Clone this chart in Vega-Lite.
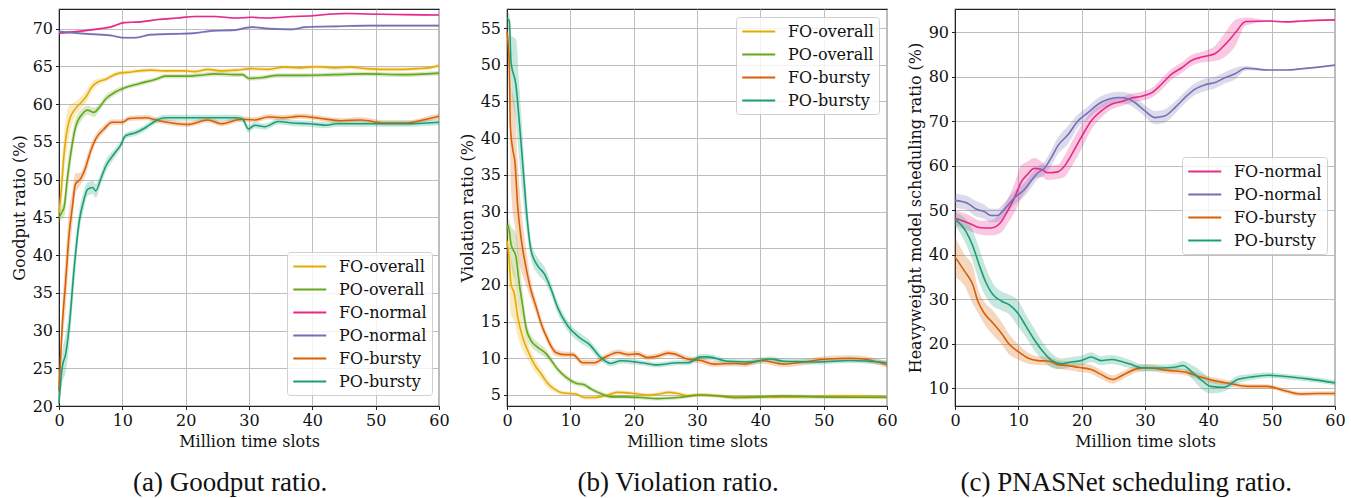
{
"$schema":"https://vega.github.io/schema/vega-lite/v6.json",
"padding":{"left":10,"top":8,"right":0,"bottom":0},
"spacing":8,
"config":{
 "font":"DejaVu Serif",
 "view":{"stroke":"#222","strokeWidth":1.2},
 "axis":{"labelFont":"DejaVu Serif","labelFontSize":16,"labelColor":"#111","titleFont":"DejaVu Serif","titleFontSize":16,"titleFontWeight":"normal","titleColor":"#111","tickColor":"#222","tickSize":3.5,"domainColor":"#222","gridColor":"#bdbdbd","gridWidth":1,"labelPadding":3,"titlePadding":5,"labelFlush":false,"labelOverlap":false},
 "legend":{"labelFont":"DejaVu Serif","labelFontSize":16,"labelColor":"#111","symbolType":"M-1,0H3","symbolStrokeWidth":2,"symbolSize":272,"symbolOpacity":1,"symbolFillColor":"transparent","fillColor":"rgba(255,255,255,0.8)","strokeColor":"#d0d0d0","cornerRadius":3,"padding":5,"rowPadding":5,"labelOffset":28},
 "title":{"font":"Liberation Serif","fontSize":27,"fontWeight":"normal","color":"#111","orient":"bottom","anchor":"middle","frame":"bounds","offset":20}
},
"datasets":{
"a":[
{"s":"FO-overall","x":0,"y":45.5,"lo":44,"hi":47},{"s":"FO-overall","x":0.3,"y":48,"lo":45.5,"hi":50.5},{"s":"FO-overall","x":0.8,"y":53.4,"lo":50.8,"hi":56},{"s":"FO-overall","x":1.6,"y":57.8,"lo":55.8,"hi":59.8},{"s":"FO-overall","x":2.6,"y":59.4,"lo":58.5,"hi":60.3},{"s":"FO-overall","x":3.5,"y":60.2,"lo":59.4,"hi":61},{"s":"FO-overall","x":4.2,"y":60.9,"lo":60.1,"hi":61.7},{"s":"FO-overall","x":5.3,"y":62.4,"lo":61.8,"hi":63},{"s":"FO-overall","x":6.3,"y":63,"lo":62.6,"hi":63.4},{"s":"FO-overall","x":7.4,"y":63.3,"lo":63,"hi":63.6},{"s":"FO-overall","x":8.5,"y":63.8,"lo":63.5,"hi":64.1},{"s":"FO-overall","x":9.5,"y":64.1,"lo":63.8,"hi":64.4},{"s":"FO-overall","x":10.8,"y":64.2,"lo":63.95,"hi":64.45},{"s":"FO-overall","x":12.6,"y":64.4,"lo":64.15,"hi":64.65},{"s":"FO-overall","x":14.5,"y":64.5,"lo":64.25,"hi":64.75},{"s":"FO-overall","x":16.5,"y":64.4,"lo":64.15,"hi":64.65},{"s":"FO-overall","x":19.7,"y":64.4,"lo":64.15,"hi":64.65},{"s":"FO-overall","x":21.5,"y":64.3,"lo":64.05,"hi":64.55},{"s":"FO-overall","x":23.5,"y":64.6,"lo":64.35,"hi":64.85},{"s":"FO-overall","x":25.5,"y":64.4,"lo":64.15,"hi":64.65},{"s":"FO-overall","x":28,"y":64.5,"lo":64.25,"hi":64.75},{"s":"FO-overall","x":30.4,"y":64.7,"lo":64.45,"hi":64.95},{"s":"FO-overall","x":33,"y":64.6,"lo":64.35,"hi":64.85},{"s":"FO-overall","x":35.5,"y":64.9,"lo":64.65,"hi":65.15},{"s":"FO-overall","x":38,"y":64.8,"lo":64.55,"hi":65.05},{"s":"FO-overall","x":40.7,"y":64.95,"lo":64.7,"hi":65.2},{"s":"FO-overall","x":43.5,"y":64.8,"lo":64.55,"hi":65.05},{"s":"FO-overall","x":46,"y":64.9,"lo":64.65,"hi":65.15},{"s":"FO-overall","x":48.5,"y":64.7,"lo":64.45,"hi":64.95},{"s":"FO-overall","x":51.3,"y":64.6,"lo":64.35,"hi":64.85},{"s":"FO-overall","x":54,"y":64.6,"lo":64.35,"hi":64.85},{"s":"FO-overall","x":56.5,"y":64.7,"lo":64.45,"hi":64.95},{"s":"FO-overall","x":58.5,"y":64.8,"lo":64.55,"hi":65.05},{"s":"FO-overall","x":60,"y":65.1,"lo":64.85,"hi":65.35},
{"s":"PO-overall","x":0,"y":45,"lo":44.3,"hi":45.7},{"s":"PO-overall","x":0.4,"y":45.6,"lo":44.7,"hi":46.5},{"s":"PO-overall","x":0.8,"y":46.3,"lo":45,"hi":47.6},{"s":"PO-overall","x":1.3,"y":50,"lo":48,"hi":52},{"s":"PO-overall","x":1.85,"y":53.4,"lo":51.8,"hi":55},{"s":"PO-overall","x":2.6,"y":56.9,"lo":55.8,"hi":58},{"s":"PO-overall","x":3.7,"y":58.7,"lo":58,"hi":59.4},{"s":"PO-overall","x":4.5,"y":59.2,"lo":58.6,"hi":59.8},{"s":"PO-overall","x":5.5,"y":58.9,"lo":58.3,"hi":59.5},{"s":"PO-overall","x":6.3,"y":59.5,"lo":59,"hi":60},{"s":"PO-overall","x":7.4,"y":60.7,"lo":60.2,"hi":61.2},{"s":"PO-overall","x":8.9,"y":61.6,"lo":61.2,"hi":62},{"s":"PO-overall","x":10.5,"y":62.2,"lo":61.9,"hi":62.5},{"s":"PO-overall","x":12.6,"y":62.7,"lo":62.4,"hi":63},{"s":"PO-overall","x":15.3,"y":63.3,"lo":63,"hi":63.6},{"s":"PO-overall","x":16.8,"y":63.7,"lo":63.4,"hi":64},{"s":"PO-overall","x":20,"y":63.7,"lo":63.4,"hi":64},{"s":"PO-overall","x":22,"y":63.8,"lo":63.5,"hi":64.1},{"s":"PO-overall","x":24.6,"y":64,"lo":63.7,"hi":64.3},{"s":"PO-overall","x":27.7,"y":63.9,"lo":63.6,"hi":64.2},{"s":"PO-overall","x":29,"y":63.9,"lo":63.6,"hi":64.2},{"s":"PO-overall","x":30,"y":63.4,"lo":63.1,"hi":63.7},{"s":"PO-overall","x":31.9,"y":63.5,"lo":63.2,"hi":63.8},{"s":"PO-overall","x":34.5,"y":63.8,"lo":63.5,"hi":64.1},{"s":"PO-overall","x":38,"y":63.8,"lo":63.5,"hi":64.1},{"s":"PO-overall","x":43.4,"y":63.9,"lo":63.6,"hi":64.2},{"s":"PO-overall","x":48.6,"y":64,"lo":63.7,"hi":64.3},{"s":"PO-overall","x":54,"y":63.9,"lo":63.6,"hi":64.2},{"s":"PO-overall","x":60,"y":64.1,"lo":63.8,"hi":64.4},
{"s":"FO-normal","x":0,"y":69.4,"lo":69.3,"hi":69.5},{"s":"FO-normal","x":3.8,"y":69.7,"lo":69.6,"hi":69.8},{"s":"FO-normal","x":6.5,"y":70,"lo":69.9,"hi":70.1},{"s":"FO-normal","x":8.1,"y":70.2,"lo":70.1,"hi":70.3},{"s":"FO-normal","x":10.3,"y":70.8,"lo":70.7,"hi":70.9},{"s":"FO-normal","x":12.9,"y":70.9,"lo":70.8,"hi":71},{"s":"FO-normal","x":15.6,"y":71.2,"lo":71.1,"hi":71.3},{"s":"FO-normal","x":18.7,"y":71.4,"lo":71.3,"hi":71.5},{"s":"FO-normal","x":21.4,"y":71.6,"lo":71.5,"hi":71.7},{"s":"FO-normal","x":24.6,"y":71.6,"lo":71.5,"hi":71.7},{"s":"FO-normal","x":27.7,"y":71.4,"lo":71.3,"hi":71.5},{"s":"FO-normal","x":30.4,"y":71.5,"lo":71.4,"hi":71.6},{"s":"FO-normal","x":33,"y":71.4,"lo":71.3,"hi":71.5},{"s":"FO-normal","x":36.8,"y":71.6,"lo":71.5,"hi":71.7},{"s":"FO-normal","x":40,"y":71.7,"lo":71.6,"hi":71.8},{"s":"FO-normal","x":42.6,"y":71.9,"lo":71.8,"hi":72},{"s":"FO-normal","x":45.3,"y":72,"lo":71.9,"hi":72.1},{"s":"FO-normal","x":50.6,"y":71.9,"lo":71.8,"hi":72},{"s":"FO-normal","x":55,"y":71.85,"lo":71.75,"hi":71.95},{"s":"FO-normal","x":60,"y":71.8,"lo":71.7,"hi":71.9},
{"s":"PO-normal","x":0,"y":69.6,"lo":69.45,"hi":69.75},{"s":"PO-normal","x":4.4,"y":69.3,"lo":69.15,"hi":69.45},{"s":"PO-normal","x":8.1,"y":69.1,"lo":68.95,"hi":69.25},{"s":"PO-normal","x":10.3,"y":68.8,"lo":68.65,"hi":68.95},{"s":"PO-normal","x":11.9,"y":68.8,"lo":68.65,"hi":68.95},{"s":"PO-normal","x":14.5,"y":69.2,"lo":69.05,"hi":69.35},{"s":"PO-normal","x":18.2,"y":69.3,"lo":69.15,"hi":69.45},{"s":"PO-normal","x":21.4,"y":69.4,"lo":69.25,"hi":69.55},{"s":"PO-normal","x":24.1,"y":69.7,"lo":69.55,"hi":69.85},{"s":"PO-normal","x":27.7,"y":69.8,"lo":69.65,"hi":69.95},{"s":"PO-normal","x":30.4,"y":70.2,"lo":70.05,"hi":70.35},{"s":"PO-normal","x":33,"y":70,"lo":69.85,"hi":70.15},{"s":"PO-normal","x":36.8,"y":69.9,"lo":69.75,"hi":70.05},{"s":"PO-normal","x":38.9,"y":70.2,"lo":70.05,"hi":70.35},{"s":"PO-normal","x":43.8,"y":70.3,"lo":70.15,"hi":70.45},{"s":"PO-normal","x":49.1,"y":70.4,"lo":70.25,"hi":70.55},{"s":"PO-normal","x":60,"y":70.4,"lo":70.25,"hi":70.55},
{"s":"FO-bursty","x":0,"y":22,"lo":20.5,"hi":23.5},{"s":"FO-bursty","x":0.5,"y":30.5,"lo":28,"hi":33},{"s":"FO-bursty","x":1.06,"y":36.6,"lo":33,"hi":40},{"s":"FO-bursty","x":1.6,"y":42.8,"lo":39.5,"hi":46},{"s":"FO-bursty","x":2.1,"y":46.3,"lo":44,"hi":48.5},{"s":"FO-bursty","x":2.6,"y":49.4,"lo":48,"hi":50.8},{"s":"FO-bursty","x":3.4,"y":50.1,"lo":49.3,"hi":50.9},{"s":"FO-bursty","x":4.2,"y":51.6,"lo":50.6,"hi":52.6},{"s":"FO-bursty","x":5,"y":53.8,"lo":53,"hi":54.6},{"s":"FO-bursty","x":5.8,"y":55.4,"lo":54.8,"hi":56},{"s":"FO-bursty","x":7.1,"y":56.7,"lo":56.2,"hi":57.2},{"s":"FO-bursty","x":8.4,"y":57.6,"lo":57.2,"hi":58},{"s":"FO-bursty","x":10,"y":57.6,"lo":57.25,"hi":57.95},{"s":"FO-bursty","x":11.1,"y":58.1,"lo":57.75,"hi":58.45},{"s":"FO-bursty","x":13.7,"y":58.2,"lo":57.85,"hi":58.55},{"s":"FO-bursty","x":15.3,"y":57.9,"lo":57.55,"hi":58.25},{"s":"FO-bursty","x":17.1,"y":57.6,"lo":57.25,"hi":57.95},{"s":"FO-bursty","x":20.3,"y":57.3,"lo":56.95,"hi":57.65},{"s":"FO-bursty","x":23.5,"y":57.9,"lo":57.55,"hi":58.25},{"s":"FO-bursty","x":25.6,"y":57.4,"lo":57.05,"hi":57.75},{"s":"FO-bursty","x":28.8,"y":58,"lo":57.65,"hi":58.35},{"s":"FO-bursty","x":30.9,"y":57.9,"lo":57.55,"hi":58.25},{"s":"FO-bursty","x":33,"y":58.3,"lo":57.95,"hi":58.65},{"s":"FO-bursty","x":35.2,"y":58.2,"lo":57.85,"hi":58.55},{"s":"FO-bursty","x":36.8,"y":58.3,"lo":57.95,"hi":58.65},{"s":"FO-bursty","x":38,"y":58.4,"lo":58.05,"hi":58.75},{"s":"FO-bursty","x":41.3,"y":58.1,"lo":57.75,"hi":58.45},{"s":"FO-bursty","x":44.5,"y":57.8,"lo":57.45,"hi":58.15},{"s":"FO-bursty","x":47.7,"y":57.9,"lo":57.55,"hi":58.25},{"s":"FO-bursty","x":51.3,"y":57.5,"lo":57.15,"hi":57.85},{"s":"FO-bursty","x":55,"y":57.5,"lo":57.15,"hi":57.85},{"s":"FO-bursty","x":58,"y":58,"lo":57.65,"hi":58.35},{"s":"FO-bursty","x":60,"y":58.4,"lo":58.05,"hi":58.75},
{"s":"PO-bursty","x":0,"y":20.4,"lo":19.5,"hi":21.5},{"s":"PO-bursty","x":0.5,"y":25.1,"lo":23,"hi":27},{"s":"PO-bursty","x":1.06,"y":26.9,"lo":24.5,"hi":29.5},{"s":"PO-bursty","x":1.6,"y":30.4,"lo":28,"hi":33},{"s":"PO-bursty","x":2.4,"y":38.3,"lo":36,"hi":40.5},{"s":"PO-bursty","x":3.2,"y":44.5,"lo":43,"hi":46},{"s":"PO-bursty","x":3.9,"y":47.2,"lo":46,"hi":48.4},{"s":"PO-bursty","x":4.5,"y":48.7,"lo":47.8,"hi":49.6},{"s":"PO-bursty","x":5.3,"y":48.95,"lo":48.1,"hi":49.8},{"s":"PO-bursty","x":5.8,"y":48.5,"lo":47.6,"hi":49.4},{"s":"PO-bursty","x":6.6,"y":50.1,"lo":49.3,"hi":50.9},{"s":"PO-bursty","x":7.4,"y":51.8,"lo":51,"hi":52.6},{"s":"PO-bursty","x":8.7,"y":53.4,"lo":52.8,"hi":54},{"s":"PO-bursty","x":9.7,"y":54.5,"lo":54,"hi":55},{"s":"PO-bursty","x":10.5,"y":55.8,"lo":55.4,"hi":56.2},{"s":"PO-bursty","x":12.1,"y":56.2,"lo":55.8,"hi":56.6},{"s":"PO-bursty","x":13.7,"y":56.9,"lo":56.5,"hi":57.3},{"s":"PO-bursty","x":15.3,"y":57.8,"lo":57.4,"hi":58.2},{"s":"PO-bursty","x":16.6,"y":58.2,"lo":57.8,"hi":58.6},{"s":"PO-bursty","x":20,"y":58.2,"lo":57.8,"hi":58.6},{"s":"PO-bursty","x":24,"y":58.2,"lo":57.8,"hi":58.6},{"s":"PO-bursty","x":28,"y":58.2,"lo":57.8,"hi":58.6},{"s":"PO-bursty","x":29,"y":58,"lo":57.6,"hi":58.4},{"s":"PO-bursty","x":29.9,"y":56.7,"lo":56.2,"hi":57.2},{"s":"PO-bursty","x":30.9,"y":57.2,"lo":56.8,"hi":57.6},{"s":"PO-bursty","x":32.5,"y":57,"lo":56.6,"hi":57.4},{"s":"PO-bursty","x":34.6,"y":57.7,"lo":57.3,"hi":58.1},{"s":"PO-bursty","x":36.8,"y":57.5,"lo":57.1,"hi":57.9},{"s":"PO-bursty","x":39.5,"y":57.4,"lo":57,"hi":57.8},{"s":"PO-bursty","x":42.2,"y":57.2,"lo":56.8,"hi":57.6},{"s":"PO-bursty","x":43.8,"y":57.4,"lo":57,"hi":57.8},{"s":"PO-bursty","x":49.1,"y":57.4,"lo":57,"hi":57.8},{"s":"PO-bursty","x":54.4,"y":57.4,"lo":57,"hi":57.8},{"s":"PO-bursty","x":60,"y":57.6,"lo":57.2,"hi":58}
],
"b":[
{"s":"FO-overall","x":0,"y":26,"lo":24,"hi":28},{"s":"FO-overall","x":0.3,"y":24,"lo":20,"hi":27},{"s":"FO-overall","x":0.63,"y":20.1,"lo":16,"hi":24},{"s":"FO-overall","x":1.16,"y":18.8,"lo":15,"hi":22},{"s":"FO-overall","x":1.7,"y":15.6,"lo":13,"hi":18.5},{"s":"FO-overall","x":2.5,"y":12.8,"lo":11,"hi":14.7},{"s":"FO-overall","x":3.3,"y":11,"lo":9.8,"hi":12.2},{"s":"FO-overall","x":4.3,"y":9.2,"lo":8.3,"hi":10.1},{"s":"FO-overall","x":5.4,"y":7.85,"lo":7.1,"hi":8.6},{"s":"FO-overall","x":6.4,"y":6.6,"lo":6,"hi":7.2},{"s":"FO-overall","x":7.5,"y":5.8,"lo":5.4,"hi":6.2},{"s":"FO-overall","x":8.5,"y":5.35,"lo":5.05,"hi":5.65},{"s":"FO-overall","x":10,"y":5.2,"lo":4.95,"hi":5.45},{"s":"FO-overall","x":11,"y":5.1,"lo":4.85,"hi":5.35},{"s":"FO-overall","x":12.2,"y":4.65,"lo":4.4,"hi":4.9},{"s":"FO-overall","x":13.8,"y":4.65,"lo":4.4,"hi":4.9},{"s":"FO-overall","x":15.9,"y":5,"lo":4.75,"hi":5.25},{"s":"FO-overall","x":17.5,"y":5.35,"lo":5.1,"hi":5.6},{"s":"FO-overall","x":20.1,"y":5.2,"lo":4.95,"hi":5.45},{"s":"FO-overall","x":22.2,"y":5,"lo":4.75,"hi":5.25},{"s":"FO-overall","x":23.8,"y":5.1,"lo":4.85,"hi":5.35},{"s":"FO-overall","x":25.4,"y":5.35,"lo":5.1,"hi":5.6},{"s":"FO-overall","x":27,"y":5.2,"lo":4.95,"hi":5.45},{"s":"FO-overall","x":28.5,"y":4.9,"lo":4.65,"hi":5.15},{"s":"FO-overall","x":30.6,"y":5,"lo":4.75,"hi":5.25},{"s":"FO-overall","x":32.7,"y":4.9,"lo":4.65,"hi":5.15},{"s":"FO-overall","x":35.9,"y":4.75,"lo":4.5,"hi":5},{"s":"FO-overall","x":38.5,"y":4.75,"lo":4.5,"hi":5},{"s":"FO-overall","x":43.7,"y":4.7,"lo":4.45,"hi":4.95},{"s":"FO-overall","x":49,"y":4.8,"lo":4.55,"hi":5.05},{"s":"FO-overall","x":54.2,"y":4.85,"lo":4.6,"hi":5.1},{"s":"FO-overall","x":60,"y":4.7,"lo":4.45,"hi":4.95},
{"s":"PO-overall","x":0,"y":27.5,"lo":26.5,"hi":28.5},{"s":"PO-overall","x":0.2,"y":28.1,"lo":27,"hi":29},{"s":"PO-overall","x":0.63,"y":25.6,"lo":23,"hi":28},{"s":"PO-overall","x":1.42,"y":23.8,"lo":20,"hi":27},{"s":"PO-overall","x":1.95,"y":20.1,"lo":17,"hi":23},{"s":"PO-overall","x":2.5,"y":17,"lo":15,"hi":19},{"s":"PO-overall","x":3,"y":14.2,"lo":13,"hi":15.5},{"s":"PO-overall","x":3.8,"y":12.4,"lo":11.6,"hi":13.2},{"s":"PO-overall","x":4.85,"y":11.5,"lo":10.8,"hi":12.2},{"s":"PO-overall","x":6.2,"y":10.6,"lo":10,"hi":11.2},{"s":"PO-overall","x":7,"y":9.7,"lo":9.2,"hi":10.2},{"s":"PO-overall","x":8,"y":8.5,"lo":8.1,"hi":8.9},{"s":"PO-overall","x":9.35,"y":7.4,"lo":7,"hi":7.8},{"s":"PO-overall","x":10.9,"y":6.6,"lo":6.25,"hi":6.95},{"s":"PO-overall","x":12.2,"y":6.4,"lo":6.05,"hi":6.75},{"s":"PO-overall","x":13.3,"y":5.8,"lo":5.5,"hi":6.1},{"s":"PO-overall","x":14.8,"y":5.2,"lo":4.9,"hi":5.5},{"s":"PO-overall","x":16.4,"y":4.75,"lo":4.5,"hi":5},{"s":"PO-overall","x":18.5,"y":4.75,"lo":4.5,"hi":5},{"s":"PO-overall","x":21.2,"y":4.65,"lo":4.4,"hi":4.9},{"s":"PO-overall","x":23.8,"y":4.5,"lo":4.25,"hi":4.75},{"s":"PO-overall","x":27,"y":4.65,"lo":4.4,"hi":4.9},{"s":"PO-overall","x":30.6,"y":5,"lo":4.75,"hi":5.25},{"s":"PO-overall","x":33.2,"y":4.9,"lo":4.65,"hi":5.15},{"s":"PO-overall","x":35.9,"y":4.65,"lo":4.4,"hi":4.9},{"s":"PO-overall","x":40,"y":4.75,"lo":4.5,"hi":5},{"s":"PO-overall","x":43.7,"y":4.85,"lo":4.6,"hi":5.1},{"s":"PO-overall","x":49,"y":4.75,"lo":4.5,"hi":5},{"s":"PO-overall","x":54,"y":4.7,"lo":4.45,"hi":4.95},{"s":"PO-overall","x":60,"y":4.7,"lo":4.45,"hi":4.95},
{"s":"FO-bursty","x":0,"y":54.5,"lo":53,"hi":56},{"s":"FO-bursty","x":0.37,"y":49.9,"lo":44,"hi":54},{"s":"FO-bursty","x":0.53,"y":41.7,"lo":36,"hi":48},{"s":"FO-bursty","x":0.9,"y":38.5,"lo":30,"hi":46},{"s":"FO-bursty","x":1.26,"y":36.7,"lo":28,"hi":44},{"s":"FO-bursty","x":1.68,"y":30.8,"lo":24,"hi":37},{"s":"FO-bursty","x":2.2,"y":26.5,"lo":22,"hi":31},{"s":"FO-bursty","x":3,"y":22.4,"lo":20,"hi":25},{"s":"FO-bursty","x":3.8,"y":19.2,"lo":18,"hi":20.5},{"s":"FO-bursty","x":4.6,"y":17,"lo":16,"hi":18},{"s":"FO-bursty","x":5.4,"y":14.7,"lo":14,"hi":15.5},{"s":"FO-bursty","x":6.4,"y":12.6,"lo":12,"hi":13.3},{"s":"FO-bursty","x":7.7,"y":10.8,"lo":10.3,"hi":11.3},{"s":"FO-bursty","x":9.05,"y":10.5,"lo":10.1,"hi":10.9},{"s":"FO-bursty","x":10.4,"y":10.5,"lo":10.1,"hi":10.9},{"s":"FO-bursty","x":11.95,"y":9.4,"lo":9,"hi":9.8},{"s":"FO-bursty","x":13.8,"y":9.4,"lo":9,"hi":9.8},{"s":"FO-bursty","x":15.4,"y":10.1,"lo":9.7,"hi":10.5},{"s":"FO-bursty","x":17.5,"y":10.8,"lo":10.4,"hi":11.2},{"s":"FO-bursty","x":19.1,"y":10.5,"lo":10.1,"hi":10.9},{"s":"FO-bursty","x":20.6,"y":10.6,"lo":10.2,"hi":11},{"s":"FO-bursty","x":22.2,"y":10.1,"lo":9.7,"hi":10.5},{"s":"FO-bursty","x":23.8,"y":10.3,"lo":9.9,"hi":10.7},{"s":"FO-bursty","x":25.4,"y":10.7,"lo":10.3,"hi":11.1},{"s":"FO-bursty","x":26.4,"y":10.6,"lo":10.2,"hi":11},{"s":"FO-bursty","x":28.5,"y":9.9,"lo":9.5,"hi":10.3},{"s":"FO-bursty","x":30.6,"y":9.7,"lo":9.3,"hi":10.1},{"s":"FO-bursty","x":32.7,"y":9.2,"lo":8.8,"hi":9.6},{"s":"FO-bursty","x":35.9,"y":9.3,"lo":8.9,"hi":9.7},{"s":"FO-bursty","x":37.5,"y":9.2,"lo":8.8,"hi":9.6},{"s":"FO-bursty","x":40.1,"y":9.7,"lo":9.3,"hi":10.1},{"s":"FO-bursty","x":43.7,"y":9.2,"lo":8.8,"hi":9.6},{"s":"FO-bursty","x":46.9,"y":9.5,"lo":9.1,"hi":9.9},{"s":"FO-bursty","x":50.6,"y":9.9,"lo":9.5,"hi":10.3},{"s":"FO-bursty","x":54.2,"y":10,"lo":9.6,"hi":10.4},{"s":"FO-bursty","x":56.4,"y":9.9,"lo":9.5,"hi":10.3},{"s":"FO-bursty","x":60,"y":9.1,"lo":8.7,"hi":9.5},
{"s":"PO-bursty","x":0,"y":56.3,"lo":55.5,"hi":57.2},{"s":"PO-bursty","x":0.37,"y":56,"lo":54.5,"hi":57},{"s":"PO-bursty","x":0.63,"y":50.4,"lo":48,"hi":54},{"s":"PO-bursty","x":1.42,"y":47.2,"lo":42,"hi":53.5},{"s":"PO-bursty","x":1.95,"y":42.2,"lo":37,"hi":47},{"s":"PO-bursty","x":2.5,"y":36.3,"lo":32,"hi":40},{"s":"PO-bursty","x":3,"y":30.8,"lo":28,"hi":33.5},{"s":"PO-bursty","x":3.8,"y":24.7,"lo":23.5,"hi":26},{"s":"PO-bursty","x":4.85,"y":22.6,"lo":21.5,"hi":23.7},{"s":"PO-bursty","x":5.9,"y":21.5,"lo":20.5,"hi":22.5},{"s":"PO-bursty","x":6.95,"y":19.45,"lo":18.6,"hi":20.3},{"s":"PO-bursty","x":8,"y":16.9,"lo":16.1,"hi":17.7},{"s":"PO-bursty","x":9.6,"y":14.4,"lo":13.7,"hi":15.1},{"s":"PO-bursty","x":11.4,"y":12.85,"lo":12.2,"hi":13.5},{"s":"PO-bursty","x":13,"y":11.9,"lo":11.3,"hi":12.5},{"s":"PO-bursty","x":14.8,"y":10.1,"lo":9.6,"hi":10.6},{"s":"PO-bursty","x":16.4,"y":9.3,"lo":8.9,"hi":9.7},{"s":"PO-bursty","x":18,"y":9.67,"lo":9.3,"hi":10.05},{"s":"PO-bursty","x":21.2,"y":9.4,"lo":9.05,"hi":9.75},{"s":"PO-bursty","x":23.8,"y":9.1,"lo":8.75,"hi":9.45},{"s":"PO-bursty","x":27,"y":9.4,"lo":9.05,"hi":9.75},{"s":"PO-bursty","x":28.6,"y":9.4,"lo":9.05,"hi":9.75},{"s":"PO-bursty","x":30.6,"y":10.2,"lo":9.8,"hi":10.6},{"s":"PO-bursty","x":31.7,"y":10.2,"lo":9.8,"hi":10.6},{"s":"PO-bursty","x":34.8,"y":9.6,"lo":9.25,"hi":9.95},{"s":"PO-bursty","x":38.5,"y":9.5,"lo":9.15,"hi":9.85},{"s":"PO-bursty","x":41.6,"y":9.9,"lo":9.55,"hi":10.25},{"s":"PO-bursty","x":43.7,"y":9.6,"lo":9.25,"hi":9.95},{"s":"PO-bursty","x":49,"y":9.5,"lo":9.15,"hi":9.85},{"s":"PO-bursty","x":54.2,"y":9.7,"lo":9.35,"hi":10.05},{"s":"PO-bursty","x":60,"y":9.4,"lo":9.05,"hi":9.75}
],
"c":[
{"s":"FO-normal","x":0,"y":48.2,"lo":46.5,"hi":50},{"s":"FO-normal","x":2,"y":47.2,"lo":45.5,"hi":49},{"s":"FO-normal","x":4.1,"y":46.05,"lo":44.5,"hi":47.6},{"s":"FO-normal","x":5.7,"y":46,"lo":44.3,"hi":47.7},{"s":"FO-normal","x":7.3,"y":47.4,"lo":45,"hi":49.8},{"s":"FO-normal","x":8.3,"y":49.8,"lo":47,"hi":52.5},{"s":"FO-normal","x":9.4,"y":52.8,"lo":49.5,"hi":56},{"s":"FO-normal","x":10.4,"y":56.2,"lo":52.5,"hi":60},{"s":"FO-normal","x":11.5,"y":58.1,"lo":55,"hi":61},{"s":"FO-normal","x":12.5,"y":59.4,"lo":57,"hi":61.8},{"s":"FO-normal","x":13.6,"y":59.2,"lo":57.5,"hi":61},{"s":"FO-normal","x":14.6,"y":58.4,"lo":56.8,"hi":60},{"s":"FO-normal","x":16.2,"y":58.6,"lo":57,"hi":60.2},{"s":"FO-normal","x":17.3,"y":59.9,"lo":57.5,"hi":62.3},{"s":"FO-normal","x":18.3,"y":62.2,"lo":59.5,"hi":65},{"s":"FO-normal","x":19.9,"y":66.3,"lo":63.5,"hi":69},{"s":"FO-normal","x":21.5,"y":70.05,"lo":68,"hi":72},{"s":"FO-normal","x":23.1,"y":72.3,"lo":70.8,"hi":73.8},{"s":"FO-normal","x":24.7,"y":73.8,"lo":72.6,"hi":75},{"s":"FO-normal","x":26.3,"y":74.4,"lo":73.4,"hi":75.4},{"s":"FO-normal","x":27.9,"y":75.2,"lo":74.2,"hi":76.2},{"s":"FO-normal","x":29.5,"y":75.6,"lo":74.6,"hi":76.6},{"s":"FO-normal","x":31.1,"y":76.4,"lo":75.3,"hi":77.5},{"s":"FO-normal","x":32.6,"y":78.3,"lo":77,"hi":79.6},{"s":"FO-normal","x":34.2,"y":80.55,"lo":79.3,"hi":81.8},{"s":"FO-normal","x":35.8,"y":82,"lo":80.8,"hi":83.2},{"s":"FO-normal","x":37.4,"y":83.7,"lo":82.5,"hi":84.9},{"s":"FO-normal","x":39,"y":84.4,"lo":83.2,"hi":85.6},{"s":"FO-normal","x":41.1,"y":85.2,"lo":83.5,"hi":87},{"s":"FO-normal","x":42.7,"y":87.3,"lo":84.5,"hi":90},{"s":"FO-normal","x":44.3,"y":89.9,"lo":87,"hi":92.8},{"s":"FO-normal","x":45.9,"y":92.4,"lo":91.5,"hi":93.3},{"s":"FO-normal","x":49.6,"y":92.5,"lo":92.35,"hi":92.65},{"s":"FO-normal","x":52.2,"y":92.3,"lo":92.15,"hi":92.45},{"s":"FO-normal","x":54.9,"y":92.5,"lo":92.35,"hi":92.65},{"s":"FO-normal","x":60,"y":92.75,"lo":92.6,"hi":92.9},
{"s":"PO-normal","x":0,"y":52.2,"lo":50.5,"hi":53.7},{"s":"PO-normal","x":1.9,"y":51.6,"lo":50,"hi":53.2},{"s":"PO-normal","x":3.4,"y":50.2,"lo":48.5,"hi":52},{"s":"PO-normal","x":4.6,"y":49.7,"lo":48.1,"hi":51.3},{"s":"PO-normal","x":5.7,"y":48.8,"lo":47.3,"hi":50.3},{"s":"PO-normal","x":6.7,"y":48.8,"lo":47.3,"hi":50.3},{"s":"PO-normal","x":7.8,"y":50.2,"lo":48.7,"hi":51.7},{"s":"PO-normal","x":9.4,"y":52.8,"lo":51.3,"hi":54.3},{"s":"PO-normal","x":11,"y":54.7,"lo":53.2,"hi":56.2},{"s":"PO-normal","x":12,"y":56.55,"lo":55,"hi":58},{"s":"PO-normal","x":13.1,"y":58.4,"lo":57,"hi":59.8},{"s":"PO-normal","x":14.2,"y":59.55,"lo":58,"hi":61},{"s":"PO-normal","x":15.2,"y":61.8,"lo":60,"hi":63.5},{"s":"PO-normal","x":16.2,"y":64.4,"lo":62.5,"hi":66.2},{"s":"PO-normal","x":17.9,"y":67.05,"lo":65,"hi":69},{"s":"PO-normal","x":19.4,"y":70.05,"lo":68.5,"hi":71.5},{"s":"PO-normal","x":21,"y":71.9,"lo":70.5,"hi":73.3},{"s":"PO-normal","x":22.6,"y":73.8,"lo":72.4,"hi":75.2},{"s":"PO-normal","x":24.2,"y":74.9,"lo":73.5,"hi":76.2},{"s":"PO-normal","x":25.8,"y":75.3,"lo":74,"hi":76.6},{"s":"PO-normal","x":27.4,"y":75,"lo":73.7,"hi":76.3},{"s":"PO-normal","x":28.4,"y":74.2,"lo":72.9,"hi":75.5},{"s":"PO-normal","x":30,"y":72.3,"lo":71,"hi":73.6},{"s":"PO-normal","x":31.6,"y":70.8,"lo":69.3,"hi":72.3},{"s":"PO-normal","x":33.2,"y":71.2,"lo":69.7,"hi":72.7},{"s":"PO-normal","x":34.7,"y":73,"lo":71.6,"hi":74.4},{"s":"PO-normal","x":36.3,"y":75.3,"lo":74,"hi":76.6},{"s":"PO-normal","x":37.9,"y":77.2,"lo":75.9,"hi":78.5},{"s":"PO-normal","x":39.5,"y":78.2,"lo":76.8,"hi":79.6},{"s":"PO-normal","x":41.1,"y":78.7,"lo":77.4,"hi":80},{"s":"PO-normal","x":42.7,"y":79.8,"lo":78.5,"hi":81.1},{"s":"PO-normal","x":44.3,"y":80.7,"lo":79.5,"hi":82},{"s":"PO-normal","x":45.9,"y":81.9,"lo":81.4,"hi":82.4},{"s":"PO-normal","x":49.6,"y":81.5,"lo":81.4,"hi":81.6},{"s":"PO-normal","x":52.2,"y":81.5,"lo":81.4,"hi":81.6},{"s":"PO-normal","x":54.9,"y":81.8,"lo":81.7,"hi":81.9},{"s":"PO-normal","x":60,"y":82.6,"lo":82.5,"hi":82.7},
{"s":"FO-bursty","x":0,"y":39.5,"lo":35,"hi":44},{"s":"FO-bursty","x":1.5,"y":36.3,"lo":33,"hi":40},{"s":"FO-bursty","x":2.8,"y":33.3,"lo":29,"hi":37.5},{"s":"FO-bursty","x":3.6,"y":29.6,"lo":27,"hi":32.5},{"s":"FO-bursty","x":4.6,"y":26.9,"lo":24.5,"hi":29.5},{"s":"FO-bursty","x":5.95,"y":24.7,"lo":22,"hi":27.5},{"s":"FO-bursty","x":7.3,"y":22.4,"lo":20,"hi":25},{"s":"FO-bursty","x":8.6,"y":19.8,"lo":17.5,"hi":22},{"s":"FO-bursty","x":9.9,"y":18.3,"lo":16.5,"hi":20},{"s":"FO-bursty","x":11.5,"y":16.8,"lo":15.5,"hi":18},{"s":"FO-bursty","x":13.1,"y":16.2,"lo":15.2,"hi":17.2},{"s":"FO-bursty","x":14.7,"y":16.1,"lo":15.1,"hi":17.1},{"s":"FO-bursty","x":16.2,"y":15.3,"lo":14.3,"hi":16.3},{"s":"FO-bursty","x":17.8,"y":15.1,"lo":14.1,"hi":16.1},{"s":"FO-bursty","x":19.4,"y":14.7,"lo":13.7,"hi":15.7},{"s":"FO-bursty","x":21.5,"y":14.2,"lo":13.2,"hi":15.2},{"s":"FO-bursty","x":23.05,"y":13.1,"lo":12.1,"hi":14.1},{"s":"FO-bursty","x":24.9,"y":11.95,"lo":11,"hi":12.9},{"s":"FO-bursty","x":26.7,"y":13.1,"lo":12.2,"hi":14},{"s":"FO-bursty","x":28.8,"y":14.4,"lo":13.6,"hi":15.2},{"s":"FO-bursty","x":30.4,"y":14.6,"lo":13.8,"hi":15.4},{"s":"FO-bursty","x":33.5,"y":14,"lo":13.3,"hi":14.7},{"s":"FO-bursty","x":36.7,"y":13.5,"lo":12.8,"hi":14.2},{"s":"FO-bursty","x":38.8,"y":12.5,"lo":11.8,"hi":13.2},{"s":"FO-bursty","x":40.9,"y":11.7,"lo":11,"hi":12.4},{"s":"FO-bursty","x":43.6,"y":11,"lo":10.4,"hi":11.6},{"s":"FO-bursty","x":46.2,"y":10.4,"lo":9.9,"hi":10.9},{"s":"FO-bursty","x":49.3,"y":10.4,"lo":9.9,"hi":10.9},{"s":"FO-bursty","x":51.9,"y":9.5,"lo":9,"hi":10},{"s":"FO-bursty","x":54.5,"y":8.7,"lo":8.2,"hi":9.2},{"s":"FO-bursty","x":57.2,"y":8.8,"lo":8.3,"hi":9.3},{"s":"FO-bursty","x":60,"y":8.8,"lo":8.3,"hi":9.3},
{"s":"PO-bursty","x":0,"y":48,"lo":46.5,"hi":49.5},{"s":"PO-bursty","x":1.7,"y":45.3,"lo":42.5,"hi":48},{"s":"PO-bursty","x":2.8,"y":42,"lo":38.5,"hi":45.5},{"s":"PO-bursty","x":3.8,"y":37.8,"lo":34,"hi":41.5},{"s":"PO-bursty","x":4.9,"y":33.7,"lo":30.5,"hi":37},{"s":"PO-bursty","x":5.95,"y":31.1,"lo":28.5,"hi":33.7},{"s":"PO-bursty","x":7.3,"y":29.6,"lo":27.5,"hi":31.7},{"s":"PO-bursty","x":8.6,"y":28.7,"lo":26.5,"hi":31},{"s":"PO-bursty","x":9.9,"y":26.9,"lo":24,"hi":29.8},{"s":"PO-bursty","x":11.2,"y":23.95,"lo":21.5,"hi":26.5},{"s":"PO-bursty","x":12.5,"y":20.95,"lo":18.5,"hi":23.4},{"s":"PO-bursty","x":14.1,"y":17.9,"lo":16,"hi":19.8},{"s":"PO-bursty","x":15.4,"y":16.1,"lo":14.5,"hi":17.7},{"s":"PO-bursty","x":16.8,"y":15.5,"lo":14.3,"hi":16.7},{"s":"PO-bursty","x":18.4,"y":15.9,"lo":14.8,"hi":17},{"s":"PO-bursty","x":19.9,"y":16.2,"lo":15.1,"hi":17.3},{"s":"PO-bursty","x":21.5,"y":17,"lo":15.9,"hi":18.1},{"s":"PO-bursty","x":23.05,"y":16.2,"lo":15.2,"hi":17.2},{"s":"PO-bursty","x":24.7,"y":16.45,"lo":15.45,"hi":17.45},{"s":"PO-bursty","x":26.3,"y":16,"lo":15,"hi":17},{"s":"PO-bursty","x":27.9,"y":15.3,"lo":14.4,"hi":16.2},{"s":"PO-bursty","x":29.4,"y":14.6,"lo":13.8,"hi":15.4},{"s":"PO-bursty","x":32.5,"y":14.55,"lo":13.8,"hi":15.3},{"s":"PO-bursty","x":34.6,"y":14.7,"lo":13.9,"hi":15.5},{"s":"PO-bursty","x":36,"y":15.1,"lo":14.1,"hi":16.1},{"s":"PO-bursty","x":37.3,"y":13.8,"lo":12.3,"hi":15.3},{"s":"PO-bursty","x":38.8,"y":11.95,"lo":10,"hi":13.9},{"s":"PO-bursty","x":40.4,"y":10.4,"lo":8.8,"hi":12},{"s":"PO-bursty","x":42.5,"y":10.2,"lo":9.3,"hi":11.1},{"s":"PO-bursty","x":44.6,"y":11.95,"lo":11.1,"hi":12.8},{"s":"PO-bursty","x":46.7,"y":12.5,"lo":11.8,"hi":13.2},{"s":"PO-bursty","x":49.4,"y":12.9,"lo":12.3,"hi":13.5},{"s":"PO-bursty","x":53.05,"y":12.5,"lo":11.9,"hi":13.1},{"s":"PO-bursty","x":55.7,"y":12.1,"lo":11.5,"hi":12.7},{"s":"PO-bursty","x":60,"y":11.2,"lo":10.6,"hi":11.8}
]
},
"hconcat":[
{
 "width":380,"height":397,
 "data":{"name":"a"},
 "title":{"text":"(a) Goodput ratio."},
 "encoding":{
  "x":{"field":"x","type":"quantitative","scale":{"domain":[0,60],"nice":false},"axis":{"title":"Million time slots","values":[0,10,20,30,40,50,60],"labelOverlap":false}},
  "color":{"field":"s","type":"nominal","scale":{"domain":["FO-overall","PO-overall","FO-normal","PO-normal","FO-bursty","PO-bursty"],"range":["#e6ab02","#66a61e","#e7298a","#7570b3","#d95f02","#1b9e77"]},"legend":{"title":null,"orient":"none","legendX":228,"legendY":243}}
 },
 "layer":[
  {"mark":{"type":"area","opacity":0.25,"interpolate":"monotone"},
   "encoding":{
    "y":{"field":"lo","type":"quantitative","scale":{"domain":[20,72.6],"nice":false,"zero":false},"axis":{"title":"Goodput ratio (%)","values":[20,25,30,35,40,45,50,55,60,65,70],"labelOverlap":false}},
    "y2":{"field":"hi"}}},
  {"mark":{"type":"line","strokeWidth":1.6,"interpolate":"monotone"},
   "encoding":{
    "y":{"field":"y","type":"quantitative","scale":{"domain":[20,72.6],"nice":false,"zero":false},"axis":{"title":"Goodput ratio (%)","values":[20,25,30,35,40,45,50,55,60,65,70],"labelOverlap":false}}}}
 ]
},
{
 "width":380,"height":397,
 "data":{"name":"b"},
 "title":{"text":"(b) Violation ratio."},
 "encoding":{
  "x":{"field":"x","type":"quantitative","scale":{"domain":[0,60],"nice":false},"axis":{"title":"Million time slots","values":[0,10,20,30,40,50,60],"labelOverlap":false}},
  "color":{"field":"s","type":"nominal","scale":{"domain":["FO-overall","PO-overall","FO-bursty","PO-bursty"],"range":["#e6ab02","#66a61e","#d95f02","#1b9e77"]},"legend":{"title":null,"orient":"none","legendX":229,"legendY":8}}
 },
 "layer":[
  {"mark":{"type":"area","opacity":0.25,"interpolate":"monotone"},
   "encoding":{
    "y":{"field":"lo","type":"quantitative","scale":{"domain":[3.5,57.6],"nice":false,"zero":false},"axis":{"title":"Violation ratio (%)","values":[5,10,15,20,25,30,35,40,45,50,55],"labelOverlap":false}},
    "y2":{"field":"hi"}}},
  {"mark":{"type":"line","strokeWidth":1.6,"interpolate":"monotone"},
   "encoding":{
    "y":{"field":"y","type":"quantitative","scale":{"domain":[3.5,57.6],"nice":false,"zero":false},"axis":{"title":"Violation ratio (%)","values":[5,10,15,20,25,30,35,40,45,50,55],"labelOverlap":false}}}}
 ]
},
{
 "width":380,"height":397,
 "data":{"name":"c"},
 "title":{"text":"(c) PNASNet scheduling ratio."},
 "encoding":{
  "x":{"field":"x","type":"quantitative","scale":{"domain":[0,60],"nice":false},"axis":{"title":"Million time slots","values":[0,10,20,30,40,50,60],"labelOverlap":false}},
  "color":{"field":"s","type":"nominal","scale":{"domain":["FO-normal","PO-normal","FO-bursty","PO-bursty"],"range":["#e7298a","#7570b3","#d95f02","#1b9e77"]},"legend":{"title":null,"orient":"none","legendX":227,"legendY":148}}
 },
 "layer":[
  {"mark":{"type":"area","opacity":0.25,"interpolate":"monotone"},
   "encoding":{
    "y":{"field":"lo","type":"quantitative","scale":{"domain":[6,95.2],"nice":false,"zero":false},"axis":{"title":"Heavyweight model scheduling ratio (%)","values":[10,20,30,40,50,60,70,80,90],"labelOverlap":false}},
    "y2":{"field":"hi"}}},
  {"mark":{"type":"line","strokeWidth":1.6,"interpolate":"monotone"},
   "encoding":{
    "y":{"field":"y","type":"quantitative","scale":{"domain":[6,95.2],"nice":false,"zero":false},"axis":{"title":"Heavyweight model scheduling ratio (%)","values":[10,20,30,40,50,60,70,80,90],"labelOverlap":false}}}}
 ]
}
],
"resolve":{"scale":{"color":"independent"}}
}
